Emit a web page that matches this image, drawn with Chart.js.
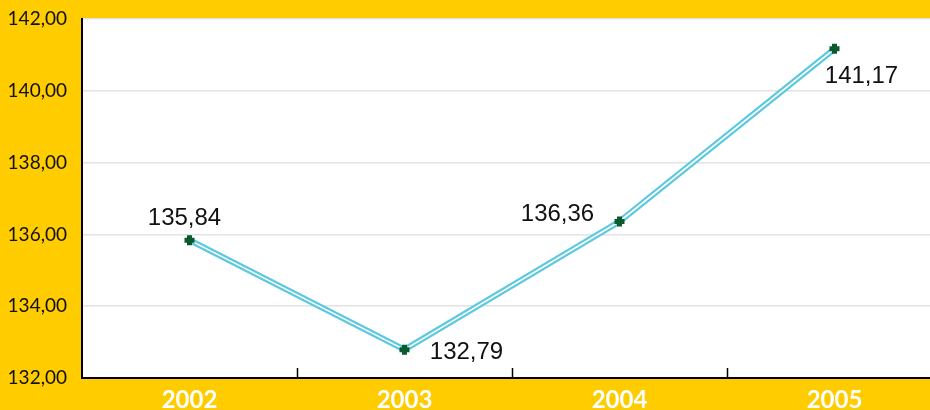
<!DOCTYPE html>
<html><head><meta charset="utf-8">
<script src="https://cdn.jsdelivr.net/npm/chart.js@4/dist/chart.umd.min.js"></script>
<style>
html,body{margin:0;padding:0;overflow:hidden;background:#FFCC00;}
#wrap{width:952px;height:410px;}
</style></head>
<body><div id="wrap"><canvas id="c" width="952" height="410"></canvas></div>
<script>
const categories = ['2002','2003','2004','2005'];
const values = [135.84, 132.79, 136.36, 141.17];
const yTicks = [132,134,136,138,140,142];

const fmt = v => v.toFixed(2).replace('.', ',');
const labelOffsets = [[-5,-22],[62,3],[-62,-7],[27,28]];

const bgPlugin = {
  id:'bg',
  beforeDraw(chart){
    const {ctx, chartArea:a} = chart;
    ctx.save(); ctx.fillStyle='#ffffff';
    ctx.fillRect(a.left,a.top,a.right-a.left,a.bottom-a.top);
    ctx.restore();
  },
  afterDatasetsDraw(chart){
    const {ctx, chartArea:a} = chart;
    const xs = chart.scales.x;
    ctx.save();
    ctx.strokeStyle='#000'; ctx.lineWidth=1.5;
    for(let i=1;i<categories.length;i++){
      const x = Math.round((xs.getPixelForTick(i-1)+xs.getPixelForTick(i))/2)+0.5;
      ctx.beginPath(); ctx.moveTo(x,a.bottom); ctx.lineTo(x,a.bottom-10); ctx.stroke();
    }
    const meta = chart.getDatasetMeta(2);
    ctx.fillStyle='#111'; ctx.font='24px "Liberation Sans", Arial, sans-serif';
    ctx.textAlign='center'; ctx.textBaseline='middle';
    meta.data.forEach((p,i)=>{
      ctx.fillText(fmt(values[i]), p.x+labelOffsets[i][0], p.y+labelOffsets[i][1]);
    });
    ctx.restore();
  }
};

new Chart(document.getElementById('c'), {
  type:'line',
  data:{
    labels:categories,
    datasets:[
      {data:values, order:3, borderColor:'#5CC9DE', borderWidth:6, pointRadius:0, tension:0},
      {data:values, order:2, borderColor:'#ffffff', borderWidth:1.6, pointRadius:0, tension:0},
      {data:values, order:1, showLine:false, pointStyle:'crossRot', rotation:45, pointRadius:5, pointBorderColor:'#0B5A2C', pointBorderWidth:5}
    ]
  },
  options:{
    responsive:false, animation:false,
    devicePixelRatio:1,
    layout:{padding:{top:19,right:0,left:0,bottom:0}},
    plugins:{legend:{display:false}, tooltip:{enabled:false}},
    scales:{
      x:{
        offset:true,
        grid:{display:false, drawTicks:false},
        border:{color:'#000', width:2},
        ticks:{color:'#ffffff', font:{family:'Lato', size:24, weight:'bold'}, padding:8},
        afterFit(s){ s.height = 32; s.paddingLeft = 0; s.paddingRight = 0; }
      },
      y:{
        min:132, max:142,
        afterBuildTicks(s){ s.ticks = yTicks.map(v=>({value:v})); },
        grid:{color:'#e2e2e2', lineWidth:1.5, drawTicks:false},
        border:{color:'#000', width:2},
        ticks:{color:'#111', font:{family:'Lato', size:19}, padding:15, callback:v=>fmt(v)},
        afterFit(s){ s.width = 82; s.paddingTop = 0; s.paddingBottom = 0; }
      }
    }
  },
  plugins:[bgPlugin]
});
</script></body></html>
